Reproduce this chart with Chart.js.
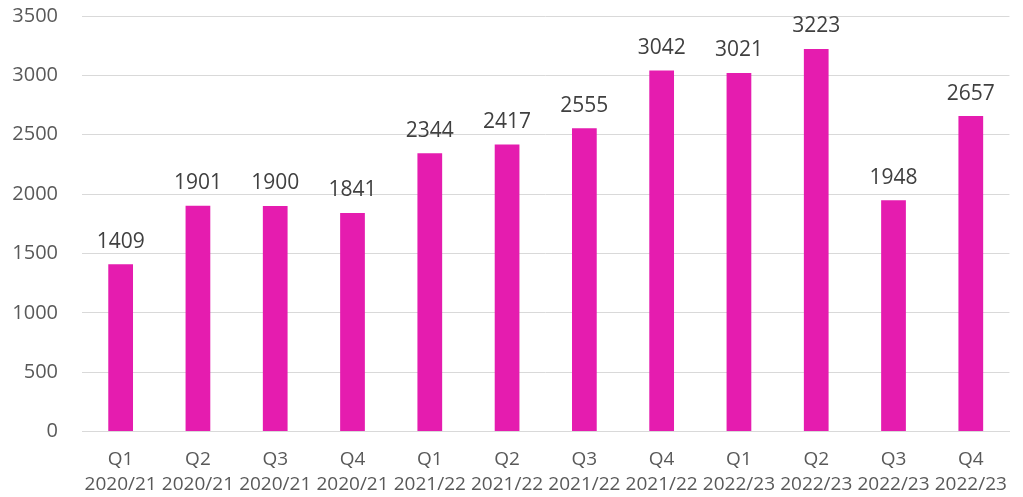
<!DOCTYPE html>
<html><head><meta charset="utf-8">
<script src="https://cdn.jsdelivr.net/npm/chart.js@4"></script>
<style>html,body{margin:0;padding:0;background:#fff}#w{width:1023px;height:497px}</style>
</head><body><div id="w"><canvas id="c"></canvas></div>
<script>
const quarters = ["Q1","Q2","Q3","Q4","Q1","Q2","Q3","Q4","Q1","Q2","Q3","Q4"];
const years = ["2020/21","2020/21","2020/21","2020/21","2021/22","2021/22","2021/22","2021/22","2022/23","2022/23","2022/23","2022/23"];
const values = [1409,1901,1900,1841,2344,2417,2555,3042,3021,3223,1948,2657];
const yTicks = [0,500,1000,1500,2000,2500,3000,3500];

const labels = quarters.map((q,i)=>[q, years[i]]);
const FONT = "'Open Sans', sans-serif";
const labelPlugin = {
  id:'vals',
  afterDatasetsDraw(chart){
    const ctx = chart.ctx;
    const meta = chart.getDatasetMeta(0);
    ctx.save();
    ctx.font = "21px " + FONT;
    ctx.fillStyle = "#404040";
    ctx.textAlign = "center";
    ctx.textBaseline = "bottom";
    meta.data.forEach((bar,i)=>{
      ctx.fillText(String(values[i]), bar.x, bar.y - 12);
    });
    ctx.restore();
  }
};
new Chart(document.getElementById('c'),{
  type:'bar',
  data:{labels, datasets:[{data:values, backgroundColor:'#E51CAF', categoryPercentage:1, barPercentage:0.32}]},
  options:{
    responsive:true, maintainAspectRatio:false, animation:false,
    layout:{padding:{top:16,right:3,bottom:-16,left:0}},
    plugins:{legend:{display:false}, tooltip:{enabled:false}},
    scales:{
      x:{grid:{display:false, drawTicks:false}, border:{color:'#d9d9d9', width:1},
         ticks:{color:'#595959', font:{family:FONT,size:19,lineHeight:1.3}, padding:16, maxRotation:0, autoSkip:false}},
      y:{min:0,max:3500, afterBuildTicks(ax){ax.ticks = yTicks.map(v=>({value:v}));},
         afterFit(ax){ax.width = 82; ax.paddingTop = 0; ax.paddingBottom = 0;},
         grid:{color:'#d9d9d9', lineWidth:1, drawTicks:false}, border:{display:false},
         ticks:{color:'#595959', font:{family:FONT,size:20}, padding:24, callback:(v)=>String(v)}}
    }
  },
  plugins:[labelPlugin]
});
</script></body></html>
